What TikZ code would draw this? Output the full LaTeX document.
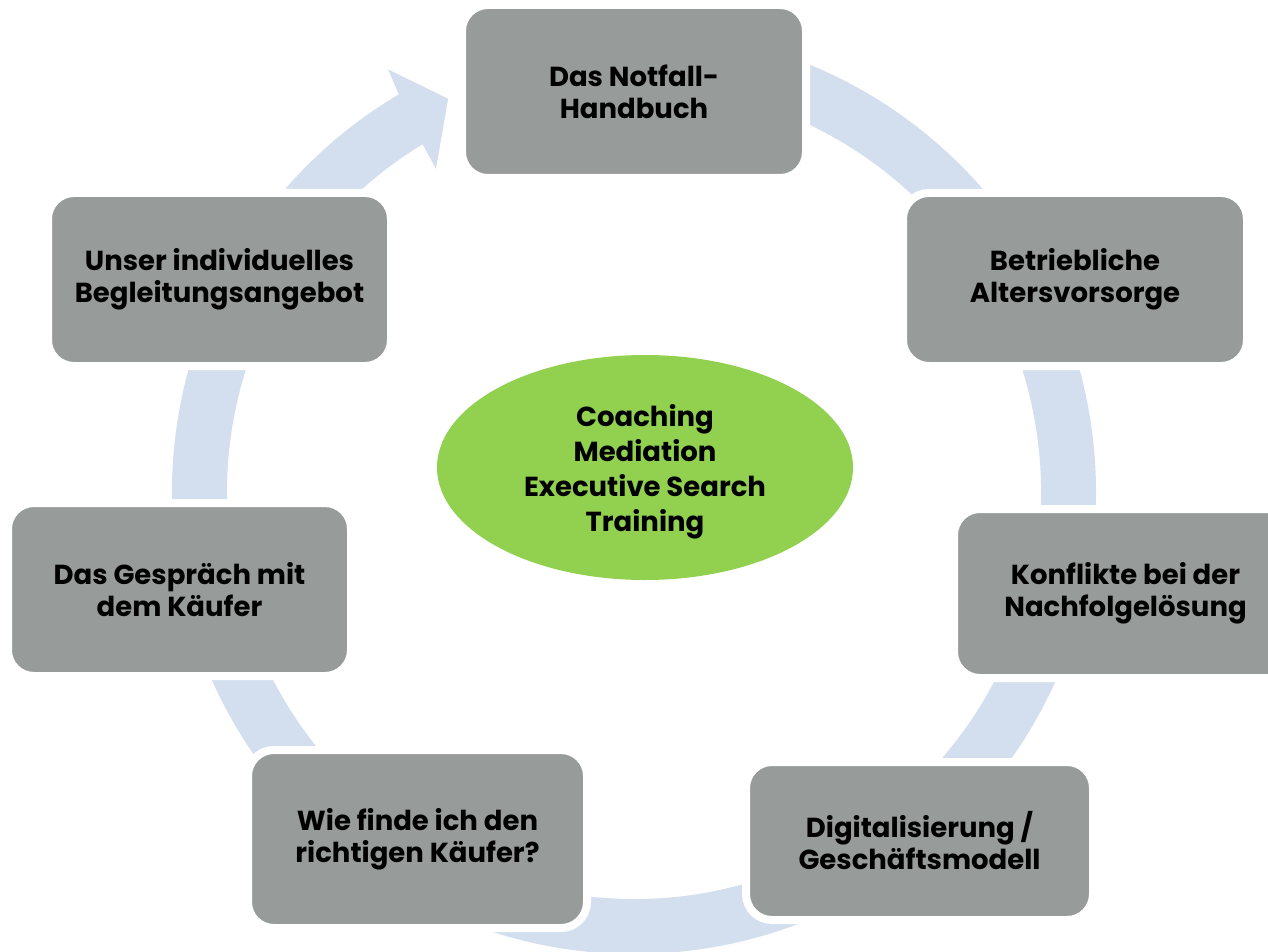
\documentclass[tikz,border=0pt]{standalone}
\usepackage{fontspec}
\setmainfont{Poppins}
\usetikzlibrary{shapes.geometric}
\definecolor{boxgray}{HTML}{979C9B}
\definecolor{ringblue}{HTML}{D3DFEE}
\definecolor{ellgreen}{HTML}{92D050}
\begin{document}
\begin{tikzpicture}[x=1pt,y=-1pt,
  stage/.style={draw=white, line width=8pt, fill=boxgray, rounded corners=26pt,
    inner sep=0pt, align=center, text=black,
    font={\fontsize{27.5}{32}\selectfont\bfseries}},
  hub/.style={ellipse, fill=ellgreen, inner sep=0pt, align=center, text=black,
    font={\fontsize{27.5}{35}\selectfont\bfseries}}]
\clip (0,0) rectangle (1268,952);
\useasboundingbox (0,0) rectangle (1268,952);
% circular arrow ring
\begin{scope}[shift={(634,492)}, yscale=-1]
\fill[ringblue] (95:462) arc[start angle=95, end angle=-239.4, radius=462]
  -- (120.2:489) -- (115.3:435) -- (121.5:379) -- (121.3:407)
  arc[start angle=-238.7, end angle=95, radius=407] -- cycle;
\end{scope}
% stages
\node[stage, minimum width=344, minimum height=173] (b1) at (634,91.5) {Das Notfall-\\Handbuch};
\node[stage, minimum width=344, minimum height=173] (b2) at (1075,279.5) {Betriebliche\\Altersvorsorge};
\node[stage, minimum width=343, minimum height=169] (b3) at (1125.5,593.5) {Konflikte bei der\\Nachfolgelösung};
\node[stage, minimum width=347, minimum height=158] (b4) at (919.5,841) {Digitalisierung /\\Geschäftsmodell};
\node[stage, minimum width=339, minimum height=178] (b5) at (417.5,839) {Wie finde ich den\\richtigen Käufer?};
\node[stage, minimum width=343, minimum height=173] (b6) at (179.5,589.5) {Das Gespräch mit\\dem Käufer};
\node[stage, minimum width=343, minimum height=173] (b7) at (219.5,279.5) {Unser individuelles\\Begleitungsangebot};
% hub
\node[hub, minimum width=416, minimum height=225] (c) at (645,467.5) {\rule{0pt}{31pt}Coaching\\Mediation\\Executive Search\\Training};
\end{tikzpicture}
\end{document}
